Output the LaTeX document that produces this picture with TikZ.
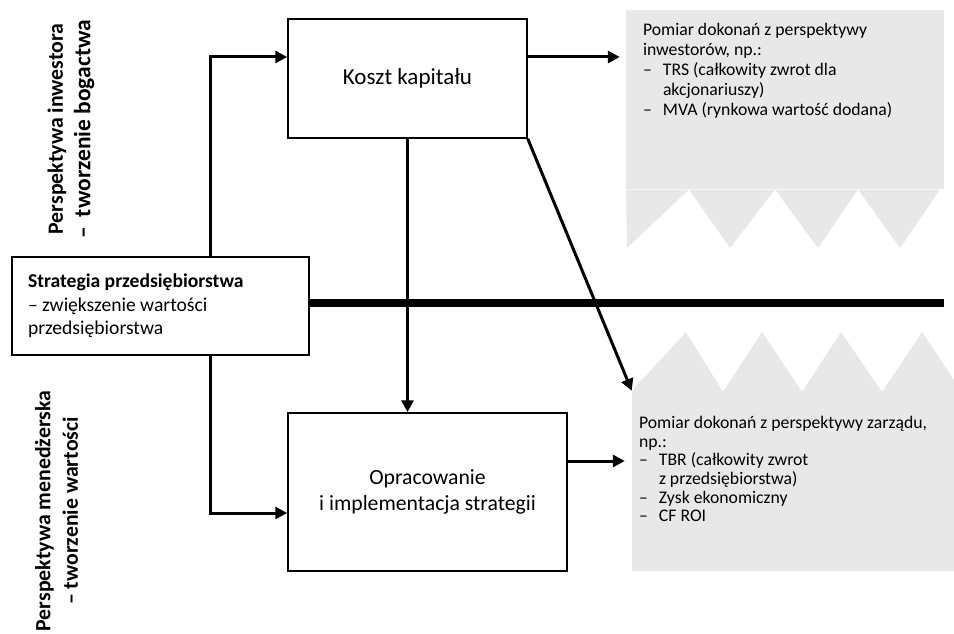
\documentclass[tikz,border=0pt]{standalone}
\usepackage{fontspec}
\setmainfont{Carlito}
\usetikzlibrary{
    arrows.meta,
    positioning,
    calc
}
\tikzset{
  box/.style   = {draw, line width=1.5pt, fill=white, align=center,
                  inner sep=0pt, font=\fontsize{21.7}{26.5}\selectfont},
  panel/.style = {fill=PanelGray, inner sep=0pt},
  ptext/.style = {anchor=north west, align=left, inner sep=0pt},
  side/.style  = {rotate=90, align=center, inner sep=0pt,
                  font=\bfseries\fontsize{21.8}{27.5}\selectfont},
  arr/.style   = {-{Triangle[length=12pt,width=12pt]}, line width=3pt}
}
\definecolor{PanelGray}{RGB}{232,232,232}
\newcommand{\dashitem}{\makebox[20pt][l]{--}}
\newcommand{\hang}{\hspace*{20pt}}

\begin{document}
\begin{tikzpicture}[x=1pt, y=-1pt]
\useasboundingbox (0,0) rectangle (954,634);

% grey panels
\node[panel, minimum width=318pt, minimum height=178.5pt] (inv) at (785,99.25) {};
\fill[PanelGray] (626,189.5) -- (627,248) -- (689,189.5) -- (730,248) -- (775,189.5)
    -- (818,248) -- (858,189.5) -- (900,248) -- (940,189.5) -- cycle;
\node[panel, minimum width=322pt, minimum height=180pt] (mgmt) at (793,481) {};
\fill[PanelGray] (mgmt.north west) -- (686,332) -- (723,392) -- (762,332) -- (802,392)
    -- (841,332) -- (882,392) -- (922,332) -- (954,380) -- (mgmt.north east) -- cycle;

\node[ptext, font=\fontsize{17.7}{20}\selectfont] (invtxt)
    at ([shift={(17pt,-13.5pt)}]inv.north west)
    {Pomiar dokonań z perspektywy\\ inwestorów, np.:\\
     \dashitem TRS (całkowity zwrot dla\\ \hang akcjonariuszy)\\
     \dashitem MVA (rynkowa wartość dodana)};
\node[ptext, font=\fontsize{17.7}{18.6}\selectfont] (mgmttxt)
    at ([shift={(7pt,-25.5pt)}]mgmt.north west)
    {Pomiar dokonań z perspektywy zarządu,\\ np.:\\
     \dashitem TBR (całkowity zwrot\\ \hang z przedsiębiorstwa)\\
     \dashitem Zysk ekonomiczny\\ \dashitem CF ROI};

% boxes
\node[box, minimum width=239pt, minimum height=119pt, font=\fontsize{23}{27}\selectfont]
    (cost) at (407.5,78.5) {Koszt kapitału};
\node[box, minimum width=279pt, minimum height=158pt] (impl) at (427.5,492)
    {Opracowanie\\ i implementacja strategii};
\node[box, minimum width=297pt, minimum height=98pt, align=flush left, text width=265pt,
      font=\fontsize{19.6}{23.5}\selectfont] (strat) at (160.5,306)
    {\textbf{Strategia przedsiębiorstwa}\\ -- zwiększenie wartości\\ przedsiębiorstwa};

\node[side] (invside) at (71,129)
    {Perspektywa inwestora\\ {\fontsize{23.5}{27.5}\selectfont --\hspace{4pt} tworzenie bogactwa}};
\node[side] (mgmtside) at (56.5,511) {Perspektywa menedżerska\\ -- tworzenie wartości};

% connectors
\coordinate (split) at (210,306);
\draw[line width=8pt] ([yshift=3pt]strat.east) -- ([yshift=3pt]strat.east -| inv.east);
\draw[arr] (strat.north -| split) |- ([yshift=21.5pt]cost.west);
\draw[arr] (strat.south -| split) |- ([yshift=-21pt]impl.west);
\draw[arr] (cost.south) -- (cost.south |- impl.north);
\draw[arr] (cost.south east) -- (mgmt.north west);
\draw[arr, shorten >=6pt] ([yshift=21.5pt]cost.east) -- ([yshift=21.5pt]cost.east -| inv.west);
\draw[arr, shorten >=7pt] ([yshift=31pt]impl.east) -- ([yshift=31pt]impl.east -| mgmt.west);
\end{tikzpicture}
\end{document}
